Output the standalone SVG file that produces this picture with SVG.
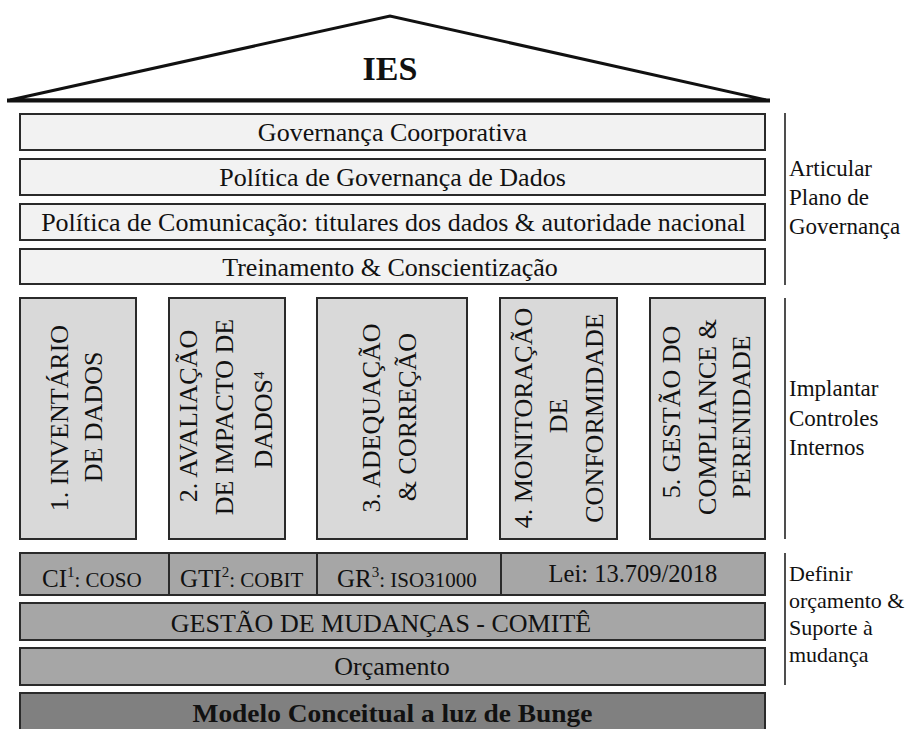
<svg xmlns="http://www.w3.org/2000/svg" width="914" height="729" viewBox="0 0 914 729">
  <style>
    text { font-family: "Liberation Serif", "Times New Roman", serif; fill: #111; }
    .bar { stroke: #2a2a2a; stroke-width: 2; }
    .light { fill: #f2f2f2; }
    .pillar { fill: #d9d9d9; }
    .mid { fill: #a6a6a6; }
    .dark { fill: #808080; }
    .t26 { font-size: 26px; text-anchor: middle; }
    .side { font-size: 23px; }
    .side2 { font-size: 22px; }
    .brk { stroke: #222; stroke-width: 1.6; }
  </style>

  <!-- Roof -->
  <g id="roof">
    <polygon points="10,100 390,16 766,100" fill="#fff" stroke="#111" stroke-width="3" stroke-linejoin="miter"/>
    <line x1="7" y1="100.5" x2="770" y2="100.5" stroke="#111" stroke-width="4"/>
    <text x="390" y="80" font-size="34" font-weight="bold" text-anchor="middle">IES</text>
  </g>

  <!-- Governance layers -->
  <g id="governanca-coorporativa">
    <rect class="bar light" x="20" y="114" width="745" height="36"/>
    <text class="t26" x="392.5" y="141">Governança Coorporativa</text>
  </g>
  <g id="politica-governanca-dados">
    <rect class="bar light" x="20" y="159" width="745" height="36"/>
    <text class="t26" x="392.5" y="186">Política de Governança de Dados</text>
  </g>
  <g id="politica-comunicacao">
    <rect class="bar light" x="20" y="204" width="745" height="36"/>
    <text class="t26" x="393.5" y="231">Política de Comunicação: titulares dos dados &amp; autoridade nacional</text>
  </g>
  <g id="treinamento">
    <rect class="bar light" x="20" y="249" width="745" height="35"/>
    <text class="t26" x="390" y="276">Treinamento &amp; Conscientização</text>
  </g>

  <!-- Pillars -->
  <g id="pilar-1">
    <rect class="bar pillar" x="20" y="298" width="116" height="241"/>
    <text class="t26" transform="translate(68,418) rotate(-90)">1. INVENTÁRIO</text>
    <text class="t26" transform="translate(102,417) rotate(-90)">DE DADOS</text>
  </g>
  <g id="pilar-2">
    <rect class="bar pillar" x="169" y="298" width="116" height="241"/>
    <text class="t26" transform="translate(197,416) rotate(-90)">2. AVALIAÇÃO</text>
    <text class="t26" transform="translate(233,417) rotate(-90)">DE IMPACTO DE</text>
    <text class="t26" transform="translate(272,420) rotate(-90)">DADOS<tspan font-size="15" baseline-shift="super">4</tspan></text>
  </g>
  <g id="pilar-3">
    <rect class="bar pillar" x="317" y="298" width="150" height="241"/>
    <text class="t26" transform="translate(380,418) rotate(-90)">3. ADEQUAÇÃO</text>
    <text class="t26" transform="translate(416,417) rotate(-90)">&amp; CORREÇÃO</text>
  </g>
  <g id="pilar-4">
    <rect class="bar pillar" x="500" y="298" width="117" height="241"/>
    <text class="t26" transform="translate(532,418) rotate(-90)">4. MONITORAÇÃO</text>
    <text class="t26" transform="translate(567,416) rotate(-90)">DE</text>
    <text class="t26" transform="translate(603,418) rotate(-90)">CONFORMIDADE</text>
  </g>
  <g id="pilar-5">
    <rect class="bar pillar" x="650" y="298" width="115" height="241"/>
    <text class="t26" transform="translate(680,412) rotate(-90)">5. GESTÃO DO</text>
    <text class="t26" transform="translate(716,417) rotate(-90)">COMPLIANCE &amp;</text>
    <text class="t26" transform="translate(750,417) rotate(-90)">PERENIDADE</text>
  </g>

  <!-- Frameworks row -->
  <g id="referenciais">
    <rect class="bar mid" x="20" y="553" width="745" height="42"/>
    <line class="bar" x1="169" y1="553" x2="169" y2="595"/>
    <line class="bar" x1="317" y1="553" x2="317" y2="595"/>
    <line class="bar" x1="501" y1="553" x2="501" y2="595"/>
    <text x="42" y="587" font-size="25">CI<tspan font-size="15" dy="-10">1</tspan><tspan font-size="21" dy="10">: COSO</tspan></text>
    <text x="180" y="587" font-size="25">GTI<tspan font-size="15" dy="-10">2</tspan><tspan font-size="21" dy="10">: COBIT</tspan></text>
    <text x="337" y="587" font-size="25">GR<tspan font-size="15" dy="-10">3</tspan><tspan font-size="21" dy="10">: ISO31000</tspan></text>
    <text x="633" y="582" font-size="24.5" text-anchor="middle">Lei: 13.709/2018</text>
  </g>
  <g id="gestao-mudancas">
    <rect class="bar mid" x="20" y="603" width="745" height="37"/>
    <text class="t26" x="381" y="632">GESTÃO DE MUDANÇAS - COMITÊ</text>
  </g>
  <g id="orcamento">
    <rect class="bar mid" x="20" y="648" width="745" height="37"/>
    <text class="t26" x="392" y="675">Orçamento</text>
  </g>
  <g id="modelo-bunge">
    <rect class="bar dark" x="20" y="693" width="745" height="42"/>
    <text class="t26" x="392.5" y="722" font-weight="bold" textLength="400" lengthAdjust="spacingAndGlyphs">Modelo Conceitual a luz de Bunge</text>
  </g>

  <!-- Side brackets -->
  <g id="brackets">
    <line class="brk" x1="785" y1="113" x2="785" y2="285"/>
    <line class="brk" x1="785" y1="298" x2="785" y2="539"/>
    <line class="brk" x1="785" y1="553" x2="785" y2="685"/>
  </g>
  <g id="label-articular">
    <text class="side" x="789" y="176">Articular</text>
    <text class="side" x="789" y="205">Plano de</text>
    <text class="side" x="789" y="234">Governança</text>
  </g>
  <g id="label-implantar">
    <text class="side" x="789" y="396">Implantar</text>
    <text class="side" x="789" y="426">Controles</text>
    <text class="side" x="789" y="455">Internos</text>
  </g>
  <g id="label-definir">
    <text class="side2" x="789" y="581">Definir</text>
    <text class="side2" x="789" y="608">orçamento &amp;</text>
    <text class="side2" x="789" y="635">Suporte à</text>
    <text class="side2" x="789" y="662">mudança</text>
  </g>
</svg>
